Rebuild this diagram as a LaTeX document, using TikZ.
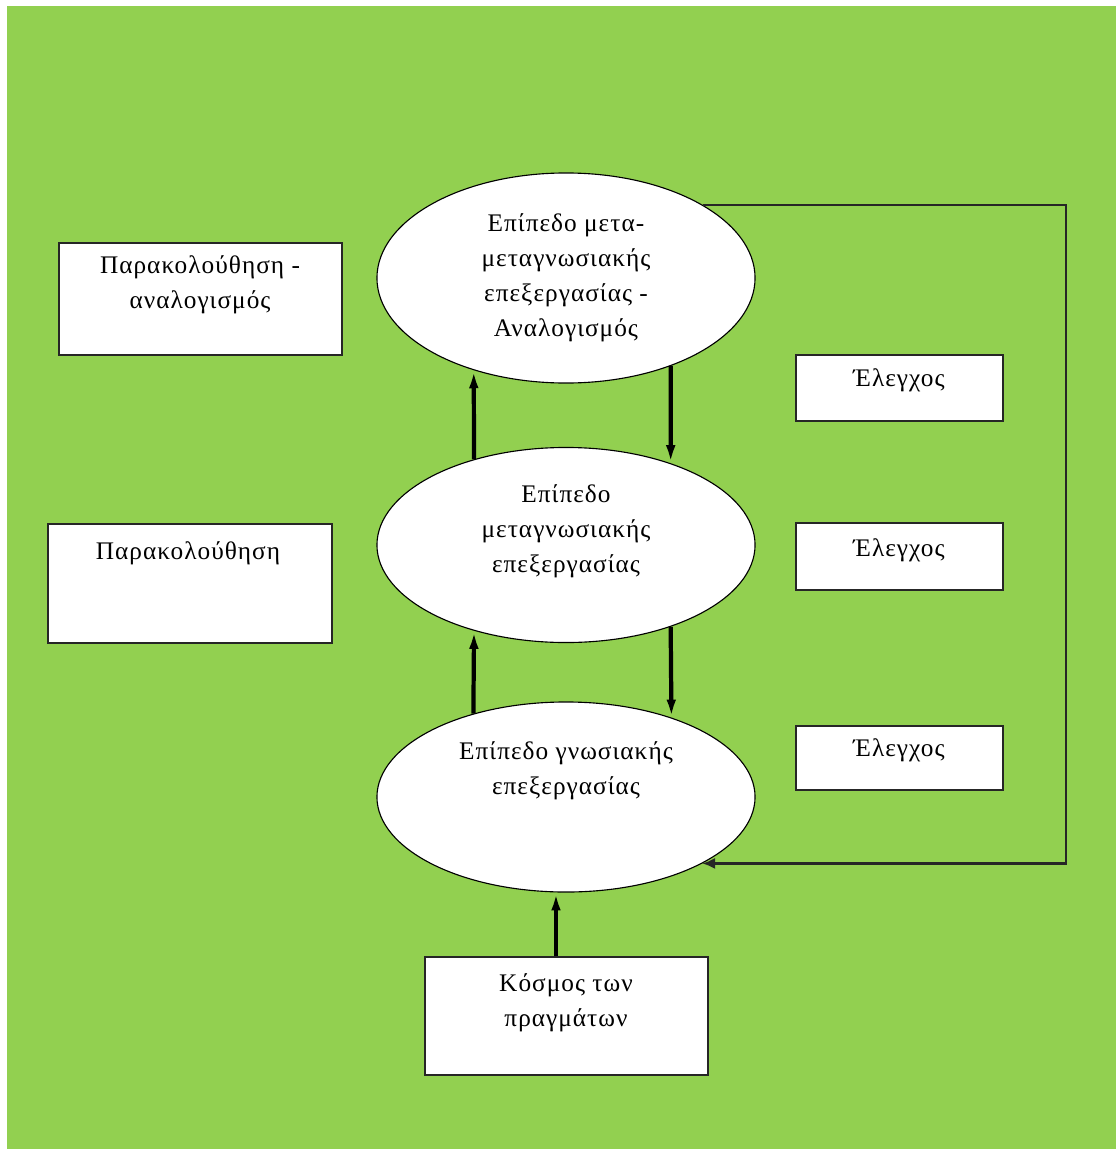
\documentclass[tikz,border=0pt]{standalone}
\usepackage{fontspec}
\setmainfont[LetterSpace=4]{Liberation Serif}
\usetikzlibrary{arrows.meta,shapes.geometric}

\definecolor{leafgreen}{RGB}{146,208,80}

\begin{document}
\begin{tikzpicture}[x=0.025cm,y=-0.025cm]
  \tikzset{
    level/.style={draw,ellipse,fill=white,inner sep=0pt,minimum width=9.45cm,line width=0.8pt},
    box/.style={draw=black!85,rectangle,fill=white,inner sep=0pt,line width=1.3pt},
    txt/.style={align=center,font=\fontsize{18}{25}\selectfont},
    link/.style={-{Latex[length=4.5mm,width=2.4mm]},line width=3pt},
    feed/.style={-{Latex[length=3.2mm,width=2.8mm]},line width=1.6pt,black!85}
  }
  \useasboundingbox (0,0) rectangle (1116,1149);
  \fill[leafgreen] (7,6) rectangle (1116,1149);

  % the three levels
  \node[level,minimum height=5.25cm] (meta2) at (566,278) {};
  \node[level,minimum height=4.875cm] (meta) at (566,545) {};
  \node[level,minimum height=4.75cm] (cogn) at (566,797) {};

  % boxes at the sides and below
  \node[box,minimum width=7.075cm,minimum height=2.8cm] (mon1) at (200.5,299) {};
  \node[box,minimum width=7.1cm,minimum height=2.975cm] (mon2) at (190,583.5) {};
  \node[box,minimum width=5.175cm,minimum height=1.65cm] (ctl1) at (899.5,388) {};
  \node[box,minimum width=5.175cm,minimum height=1.675cm] (ctl2) at (899.5,556.5) {};
  \node[box,minimum width=5.175cm,minimum height=1.6cm] (ctl3) at (899.5,758) {};
  \node[box,minimum width=7.075cm,minimum height=2.95cm] (world) at (566.5,1016) {};

  % texts, set high in their shapes as in Word
  \node[txt] (meta2t) at (566,278) {Επίπεδο μετα-\\μεταγνωσιακής\\επεξεργασίας -\\Αναλογισμός};
  \node[txt] (metat) at (566,531) {Επίπεδο\\μεταγνωσιακής\\επεξεργασίας};
  \node[txt] (cognt) at (566,771) {Επίπεδο γνωσιακής\\επεξεργασίας};
  \node[txt] (mon1t) at (200,285) {Παρακολούθηση -\\αναλογισμός};
  \node[txt] (mon2t) at (188,553) {Παρακολούθηση};
  \node[txt] (ctl1t) at (899,380) {Έλεγχος};
  \node[txt] (ctl2t) at (899,550) {Έλεγχος};
  \node[txt] (ctl3t) at (899,750) {Έλεγχος};
  \node[txt] (worldt) at (566,1003) {Κόσμος των\\πραγμάτων};

  % up and down between the levels
  \draw[link] (meta.137) -- (meta2.225);
  \draw[link] (meta2.320) -- (meta.38);
  \draw[link] (cogn.138) -- (meta.223);
  \draw[link] (meta.322) -- (cogn.37);
  \draw[link] (world.north -| cogn.264) -- (cogn.264);

  % feedback loop on the right
  \coordinate (corner) at (1066,0);
  \draw[feed] (meta2.28) -- (meta2.28 -| corner) -- (cogn.334 -| corner) -- (cogn.334);
\end{tikzpicture}
\end{document}
